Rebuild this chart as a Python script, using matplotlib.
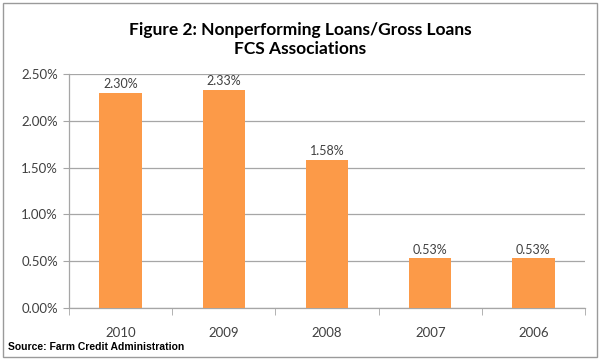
import matplotlib
matplotlib.use("Agg")
import matplotlib.pyplot as plt
from matplotlib.ticker import FixedLocator, FuncFormatter
from matplotlib.patches import Rectangle

years = ["2010", "2009", "2008", "2007", "2006"]
ratios = [2.30, 2.33, 1.58, 0.53, 0.53]
yticks = [0.0, 0.5, 1.0, 1.5, 2.0, 2.5]

bar_color = "#FC9A48"
grid_color = "#A6A6A6"
text_color = "#404040"

plt.rcParams['font.family'] = ['Lato', 'DejaVu Sans']

fig = plt.figure(figsize=(6, 3.6), dpi=100)
ax = fig.add_axes([0.115, 0.1444, 0.86, 0.65])

x = list(range(len(years)))
ax.bar(x, ratios, width=0.41, color=bar_color, zorder=3)

for xi, v in zip(x, ratios):
    ax.text(xi, v + 0.03, f"{v:.2f}%", ha='center', va='bottom',
            fontsize=9, color=text_color, zorder=4)

ax.set_xlim(-0.5, len(years) - 0.5)
ax.set_ylim(0, 2.5)
ax.set_yticks(yticks)
ax.yaxis.set_major_formatter(FuncFormatter(lambda v, pos: f"{v:.2f}%"))
ax.grid(axis='y', color=grid_color, linewidth=0.9, zorder=0)

ax.set_xticks(x)
ax.set_xticklabels(years)
# category boundary ticks, Excel style
ax.xaxis.set_minor_locator(FixedLocator([i - 0.5 for i in range(len(years) + 1)]))
ax.tick_params(axis='x', which='major', length=0, pad=14, labelsize=9.5, labelcolor=text_color)
ax.tick_params(axis='x', which='minor', length=5, color=grid_color, direction='out')
ax.tick_params(axis='y', length=4, color=grid_color, labelsize=9.5, labelcolor=text_color, pad=4)

for side in ['top', 'right']:
    ax.spines[side].set_visible(False)
for side in ['left', 'bottom']:
    ax.spines[side].set_color(grid_color)
    ax.spines[side].set_linewidth(0.9)

fig.text(0.5, 0.918, "Figure 2: Nonperforming Loans/Gross Loans", ha='center', va='center',
         fontsize=12.5, fontweight='bold', color='#000000')
fig.text(0.5, 0.864, "FCS Associations", ha='center', va='center',
         fontsize=12.5, fontweight='bold', color='#000000')

fig.text(0.014, 0.036, "Source: Farm Credit Administration", ha='left', va='center',
         fontsize=7.5, fontweight='bold', family=['Liberation Sans', 'DejaVu Sans'])

fig.patches.append(Rectangle((0.005, 0.008), 0.99, 0.984, transform=fig.transFigure,
                             fill=False, edgecolor='#9A9A9A', linewidth=1.0))

fig.savefig("out.png", dpi=100)
